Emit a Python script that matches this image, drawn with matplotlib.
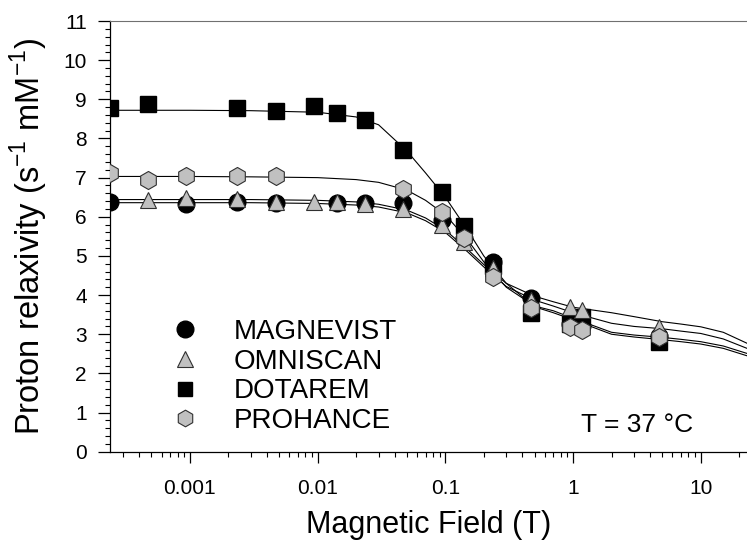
import numpy as np
import matplotlib
matplotlib.use("Agg")
import matplotlib.pyplot as plt
from matplotlib.lines import Line2D
from matplotlib.ticker import LogLocator, MultipleLocator, NullFormatter

plt.rcParams['font.family'] = ['Liberation Sans', 'DejaVu Sans']
plt.rcParams['mathtext.fontset'] = 'custom'
plt.rcParams['mathtext.rm'] = 'Liberation Sans'

# measured relaxivities (field in T)
magnevist_x = [0.000235, 0.00094, 0.00235, 0.0047, 0.0141, 0.0235, 0.047, 0.094, 0.141, 0.235, 0.47, 0.94, 1.17, 4.7]
magnevist_y = [6.38, 6.32, 6.38, 6.34, 6.36, 6.34, 6.36, 5.92, 5.45, 4.85, 3.92, 3.25, 3.22, 2.95]

omniscan_x = [0.00047, 0.00094, 0.00235, 0.0047, 0.0094, 0.0141, 0.0235, 0.047, 0.094, 0.141, 0.235, 0.47, 0.94, 1.17, 4.7]
omniscan_y = [6.44, 6.47, 6.46, 6.39, 6.39, 6.37, 6.32, 6.21, 5.79, 5.36, 4.7, 3.88, 3.69, 3.63, 3.19]

dotarem_x = [0.000235, 0.00047, 0.00235, 0.0047, 0.0094, 0.0141, 0.0235, 0.047, 0.094, 0.141, 0.235, 0.47, 0.94, 1.17, 4.7]
dotarem_y = [8.78, 8.87, 8.78, 8.70, 8.84, 8.64, 8.48, 7.70, 6.64, 5.76, 4.75, 3.55, 3.25, 3.44, 2.81]

prohance_x = [0.000235, 0.00047, 0.00094, 0.00235, 0.0047, 0.047, 0.094, 0.141, 0.235, 0.47, 0.94, 1.17, 4.7]
prohance_y = [7.11, 6.94, 7.05, 7.05, 7.04, 6.70, 6.13, 5.45, 4.47, 3.66, 3.18, 3.11, 2.92]

# fitted profiles
fit_x = [0.000237, 0.001, 0.003, 0.01, 0.02, 0.03, 0.05, 0.07, 0.1, 0.15, 0.2, 0.3,
         0.5, 0.7, 1, 2, 3, 5, 7, 10, 15, 23]
fit_magnevist = [6.36, 6.36, 6.36, 6.34, 6.3, 6.25, 6.1, 5.9, 5.6, 5.1, 4.72, 4.22,
                 3.87, 3.72, 3.55, 3.28, 3.2, 3.14, 3.08, 3.02, 2.88, 2.64]
fit_omniscan = [6.44, 6.44, 6.44, 6.42, 6.38, 6.32, 6.17, 5.97, 5.66, 5.16, 4.78, 4.3,
                3.97, 3.83, 3.69, 3.55, 3.45, 3.32, 3.26, 3.19, 3.05, 2.77]
fit_dotarem = [8.72, 8.72, 8.71, 8.67, 8.55, 8.35, 7.68, 7.12, 6.5, 5.65, 5.0, 4.3,
               3.7, 3.55, 3.37, 3.0, 2.93, 2.86, 2.81, 2.75, 2.64, 2.45]
fit_prohance = [7.03, 7.03, 7.02, 7.0, 6.95, 6.88, 6.68, 6.42, 6.05, 5.4, 4.85, 4.2,
                3.72, 3.6, 3.41, 3.05, 2.98, 2.92, 2.87, 2.81, 2.7, 2.51]

labels = ['MAGNEVIST', 'OMNISCAN', 'DOTAREM', 'PROHANCE']

fig = plt.figure(figsize=(7.47, 5.5), dpi=100)
ax = fig.add_axes([0.1473, 0.1787, 0.8527, 0.7831])

for fy in [fit_magnevist, fit_omniscan, fit_dotarem, fit_prohance]:
    ax.plot(fit_x, fy, color='black', lw=0.8, zorder=2)

gray = '#c0c0c0'
ax.plot(dotarem_x, dotarem_y, ls='none', marker='s', ms=11, mfc='black', mec='black', zorder=3)
ax.plot(magnevist_x, magnevist_y, ls='none', marker='o', ms=12, mfc='black', mec='black', zorder=4)
ax.plot(omniscan_x, omniscan_y, ls='none', marker='^', ms=12, mfc=gray, mec='#303030', mew=0.8, zorder=5)
ax.plot(prohance_x, prohance_y, ls='none', marker='h', ms=13, mfc=gray, mec='#303030', mew=0.8, zorder=6)

ax.set_xscale('log')
ax.set_xlim(0.000237, 23)
ax.set_ylim(0, 11)

ax.spines['right'].set_visible(False)
ax.spines['top'].set_color('#707070')
for s in ['left', 'bottom']:
    ax.spines[s].set_linewidth(0.9)

ax.yaxis.set_major_locator(MultipleLocator(1))
ax.yaxis.set_minor_locator(MultipleLocator(0.2))
ax.xaxis.set_minor_locator(LogLocator(base=10, subs=np.arange(2, 10), numticks=20))
ax.xaxis.set_minor_formatter(NullFormatter())
ax.set_xticks([0.001, 0.01, 0.1, 1, 10])
ax.set_xticklabels(['0.001', '0.01', '0.1', '1', '10'])

ax.tick_params(axis='both', which='major', direction='out', labelsize=15, width=0.9)
ax.tick_params(axis='y', which='major', length=8.6, pad=8)
ax.tick_params(axis='y', which='minor', length=3.6, width=0.8)
ax.tick_params(axis='x', which='major', length=8, pad=12)
ax.tick_params(axis='x', which='minor', length=3.6, width=0.8)

ax.set_xlabel('Magnetic Field (T)', fontsize=22, labelpad=8)
ax.set_ylabel(r'Proton relaxivity (s$^{\mathregular{-1}}$ mM$^{\mathregular{-1}}$)', fontsize=23.5, labelpad=10)

handles = [
    Line2D([], [], ls='none', marker='o', ms=12, mfc='black', mec='black'),
    Line2D([], [], ls='none', marker='^', ms=11, mfc=gray, mec='#303030', mew=0.8),
    Line2D([], [], ls='none', marker='s', ms=10.5, mfc='black', mec='black'),
    Line2D([], [], ls='none', marker='h', ms=12, mfc=gray, mec='#303030', mew=0.8),
]
ax.legend(handles, labels, loc='upper left', bbox_to_anchor=(0.074, 0.34), frameon=False,
          fontsize=20, handlelength=1.0, handletextpad=1.26, labelspacing=0.13, borderpad=0)

ax.text(0.74, 0.045, 'T = 37 °C', transform=ax.transAxes, fontsize=19)

fig.savefig('out.png', dpi=100)
